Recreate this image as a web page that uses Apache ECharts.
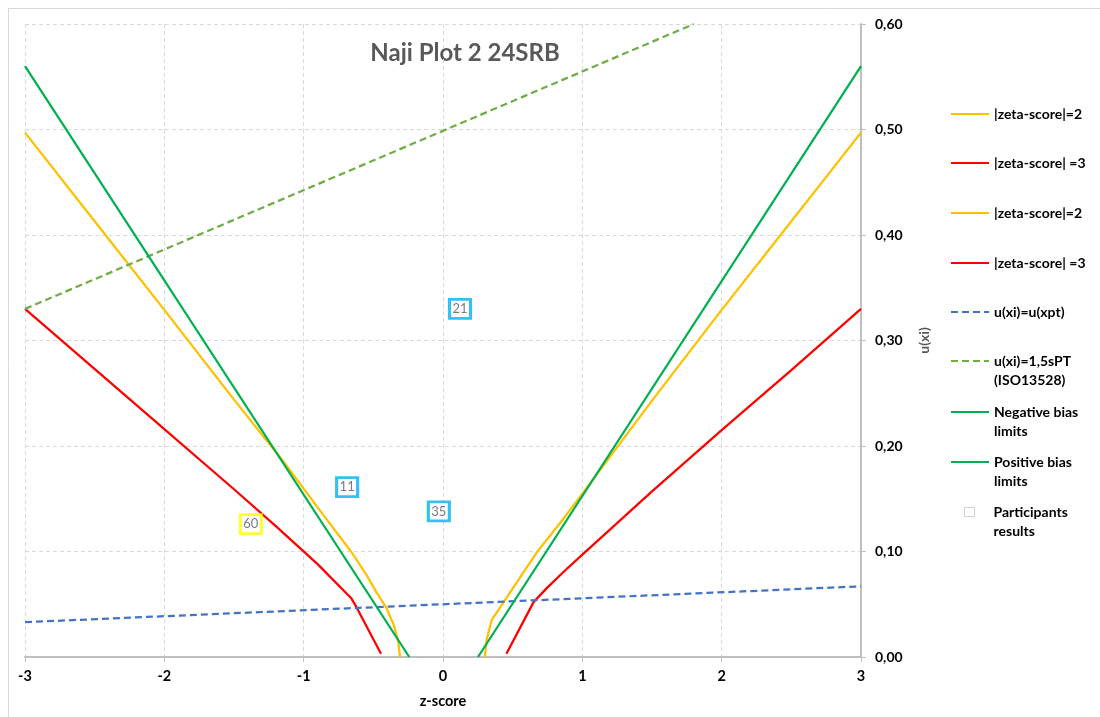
<!DOCTYPE html>
<html><head><meta charset="utf-8">
<script src="https://cdn.jsdelivr.net/npm/echarts@6/dist/echarts.min.js"></script>
<style>html,body{margin:0;padding:0;background:#fff}#c{width:1100px;height:717px}</style>
</head><body><div id="c"></div>
<script>
// ---- data ----
const titleText = 'Naji Plot 2 24SRB';
const xName = 'z-score';
const yName = 'u(xi)';

const zeta2LeftZ = [-3, -2.5, -2, -1.5, -1.15, -0.85, -0.66, -0.55, -0.476, -0.404, -0.352, -0.321, -0.309];
const zeta2LeftU = [0.497, 0.413, 0.329, 0.244, 0.186, 0.133, 0.100, 0.078, 0.061, 0.046, 0.030, 0.014, 0.000];
const zeta3LeftZ = [-3, -2, -1.5, -1.2, -0.9, -0.66, -0.62, -0.445];
const zeta3LeftU = [0.330, 0.216, 0.159, 0.124, 0.088, 0.056, 0.047, 0.003];
const zeta2RightZ = [0.301, 0.313, 0.349, 0.445, 0.541, 0.672, 0.876, 1.2, 1.5, 2, 2.5, 3];
const zeta2RightU = [0.000, 0.016, 0.035, 0.054, 0.073, 0.099, 0.133, 0.190, 0.243, 0.329, 0.413, 0.497];
const zeta3RightZ = [0.455, 0.65, 0.75, 0.876, 1.0, 1.2, 1.5, 2, 2.5, 3];
const zeta3RightU = [0.003, 0.052, 0.066, 0.082, 0.097, 0.121, 0.157, 0.215, 0.272, 0.330];
const uxptZ = [-3, 3];
const uxptU = [0.033, 0.067];
const isoZ = [-3, 1.8];
const isoU = [0.330, 0.600];
const negBiasZ = [-3, -0.242];
const negBiasU = [0.560, 0.000];
const posBiasZ = [0.251, 3];
const posBiasU = [0.000, 0.560];
const participantZ = [0.122, -0.688, -0.030, -1.379];
const participantU = [0.330, 0.161, 0.138, 0.126];
const participantLabels = ['21', '11', '35', '60'];

const seriesNames = ['|zeta-score|=2', '|zeta-score| =3', '|zeta-score|=2 ', '|zeta-score| =3 ',
  'u(xi)=u(xpt)', 'u(xi)=1,5sPT (ISO13528)', 'Negative bias limits', 'Positive bias limits', 'Participants results'];
const legendTexts = [['|zeta-score|=2'], ['|zeta-score| =3'], ['|zeta-score|=2'], ['|zeta-score| =3'],
  ['u(xi)=u(xpt)'], ['u(xi)=1,5sPT', '(ISO13528)'], ['Negative bias', 'limits'], ['Positive bias', 'limits'], ['Participants', 'results']];

// ---- styling ----
const FONT = 'Lato, "Open Sans", sans-serif';
const YELLOW = '#ffc000', RED = '#ff0000', GREEN = '#00b050', BLUE = '#4472c4', LGREEN = '#70ad47';
const legendY = [114, 163, 213, 263, 312, 361, 412, 462, 512];
const LH = 19;

function pairs(xs, ys) { return xs.map((x, i) => [x, ys[i]]); }
function lineSeries(name, xs, ys, color, dashed) {
  return {
    name, type: 'line', data: pairs(xs, ys), symbol: 'none', showSymbol: false,
    lineStyle: { color, width: 2.25, type: dashed ? [7, 4] : 'solid', cap: 'butt' },
    itemStyle: { color }, clip: true, animation: false, z: 3
  };
}
const series = [
  lineSeries(seriesNames[0], zeta2LeftZ, zeta2LeftU, YELLOW),
  lineSeries(seriesNames[1], zeta3LeftZ, zeta3LeftU, RED),
  lineSeries(seriesNames[2], zeta2RightZ, zeta2RightU, YELLOW),
  lineSeries(seriesNames[3], zeta3RightZ, zeta3RightU, RED),
  lineSeries(seriesNames[4], uxptZ, uxptU, BLUE, true),
  lineSeries(seriesNames[5], isoZ, isoU, LGREEN, true),
  lineSeries(seriesNames[6], negBiasZ, negBiasU, GREEN),
  lineSeries(seriesNames[7], posBiasZ, posBiasU, GREEN),
  {
    name: seriesNames[8], type: 'scatter', symbol: 'rect', symbolSize: [21, 19], z: 5,
    data: participantZ.map((z, i) => ({
      value: [z, participantU[i]], name: participantLabels[i],
      itemStyle: { color: '#fff', borderColor: participantLabels[i] === '60' ? '#ffff00' : '#00b0f0', borderWidth: 3 }
    })),
    label: { show: true, position: 'inside', formatter: p => p.name, color: '#595959', fontSize: 13, fontFamily: FONT },
    emphasis: { disabled: true }
  }
];

const legends = seriesNames.map((name, i) => {
  const lines = legendTexts[i];
  const n = lines.length === 1 ? 1 : 3;
  const text = lines.length === 1 ? lines[0] : ' \n' + lines.join('\n');
  const isP = i === 8;
  return {
    show: true, orient: 'vertical', padding: 0, selectedMode: false,
    left: isP ? 964 : 950, top: legendY[i] - (n * LH) / 2,
    itemWidth: isP ? 10 : 38, itemHeight: isP ? 9 : 10,
    itemStyle: isP ? undefined : { opacity: 0, color: 'rgba(0,0,0,0)', borderWidth: 0 },
    data: [isP ? { name, icon: 'rect', itemStyle: { color: '#fff', borderColor: '#d0d0d0', borderWidth: 1 } } : name],
    formatter: () => text,
    textStyle: { fontFamily: FONT, fontWeight: 'bold', fontSize: 14, color: '#000', lineHeight: LH, padding: isP ? [0, 0, 0, 14] : 0 }
  };
});

const chart = echarts.init(document.getElementById('c'), null, { renderer: 'canvas' });
chart.setOption({
  animation: false,
  backgroundColor: '#fff',
  grid: { left: 25, right: 239, top: 24, bottom: 60, containLabel: false },
  xAxis: {
    type: 'value', min: -3, max: 3, interval: 1,
    name: xName, nameLocation: 'middle', nameGap: 37,
    nameTextStyle: { fontFamily: FONT, fontWeight: 'bold', fontSize: 14.5, color: '#000' },
    axisLine: { show: true, onZero: false, lineStyle: { color: '#bfbfbf', width: 2 } },
    axisTick: { show: true, length: 5, lineStyle: { color: '#bfbfbf', width: 1 } },
    axisLabel: { margin: 12, fontFamily: FONT, fontWeight: 'bold', fontSize: 14.5, color: '#000' },
    splitLine: { show: true, lineStyle: { type: [4, 3], color: '#d9d9d9', width: 1 } }
  },
  yAxis: {
    type: 'value', position: 'right', min: 0, max: 0.6, interval: 0.1,
    name: yName, nameLocation: 'middle', nameRotate: 90, nameGap: 56,
    nameTextStyle: { fontFamily: FONT, fontWeight: 'bold', fontSize: 14, color: '#595959' },
    axisLine: { show: true, onZero: false, lineStyle: { color: '#bfbfbf', width: 2 } },
    axisTick: { show: true, length: 5, lineStyle: { color: '#bfbfbf', width: 1 } },
    axisLabel: { margin: 14, fontFamily: FONT, fontWeight: 'bold', fontSize: 14, color: '#000',
      formatter: v => v.toFixed(2).replace('.', ',') },
    splitLine: { show: true, lineStyle: { type: [4, 3], color: '#d9d9d9', width: 1 } }
  },
  legend: legends,
  graphic: [
    { type: 'rect', silent: true, z: -10, shape: { x: 8.5, y: 8.5, width: 1100, height: 720 },
      style: { fill: 'none', stroke: '#d9d9d9', lineWidth: 1 } },
    { type: 'text', silent: true, x: 465, y: 53,
      style: { text: titleText, align: 'center', verticalAlign: 'middle', fontFamily: FONT, fontWeight: 'bold', fontSize: 24, fill: '#595959' } }
  ],
  series
});
</script>
</body></html>
